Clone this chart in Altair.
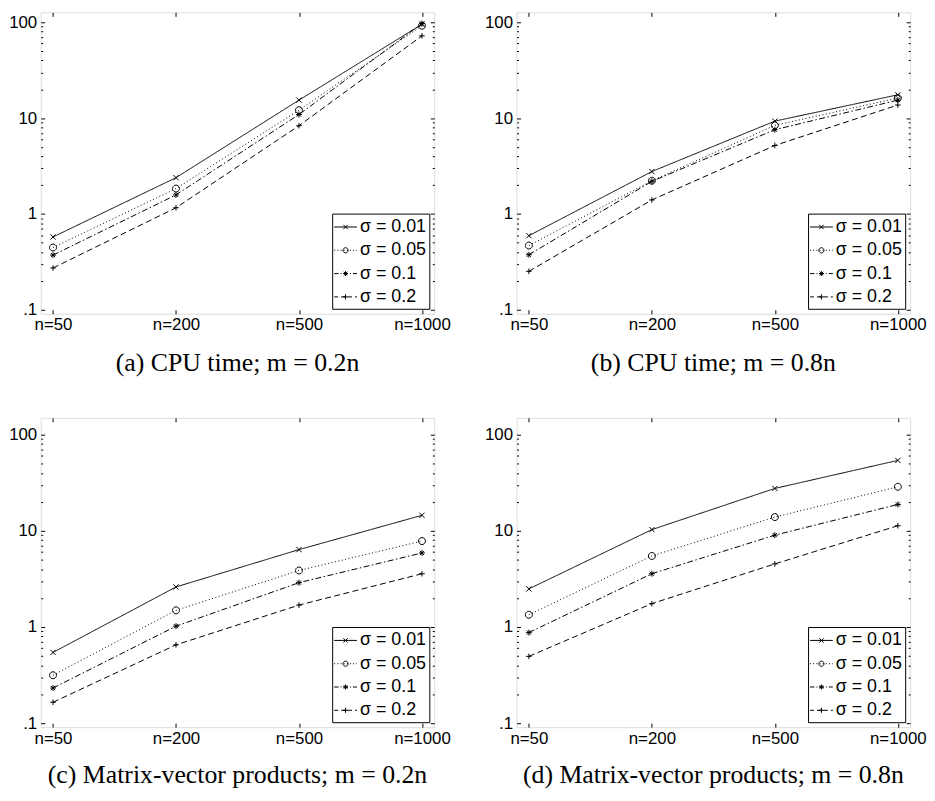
import math
import altair as alt
import pandas as pd

# ---------------- data ----------------
n_labels = ["n=50", "n=200", "n=500", "n=1000"]
sigma_labels = ["σ = 0.01", "σ = 0.05", "σ = 0.1", "σ = 0.2"]

# (a) CPU time; m = 0.2n
a_s001 = [0.575, 2.39, 15.4, 95.3]
a_s005 = [0.446, 1.84, 12.1, 92.0]
a_s01 = [0.372, 1.58, 10.9, 97.0]
a_s02 = [0.273, 1.16, 8.33, 72.2]

# (b) CPU time; m = 0.8n
b_s001 = [0.593, 2.77, 9.3, 17.5]
b_s005 = [0.468, 2.22, 8.4, 16.2]
b_s01 = [0.375, 2.19, 7.57, 15.4]
b_s02 = [0.252, 1.40, 5.18, 13.7]

# (c) Matrix-vector products; m = 0.2n
c_s001 = [0.544, 2.61, 6.38, 14.5]
c_s005 = [0.315, 1.49, 3.87, 7.83]
c_s01 = [0.232, 1.02, 2.89, 5.89]
c_s02 = [0.165, 0.652, 1.69, 3.58]

# (d) Matrix-vector products; m = 0.8n
d_s001 = [2.49, 10.3, 27.6, 54.0]
d_s005 = [1.34, 5.48, 13.9, 28.7]
d_s01 = [0.875, 3.58, 9.02, 18.8]
d_s02 = [0.495, 1.75, 4.53, 11.3]

captions = [
    "(a)  CPU time; m = 0.2n",
    "(b)  CPU time; m = 0.8n",
    "(c)  Matrix-vector products; m = 0.2n",
    "(d)  Matrix-vector products; m = 0.8n",
]

major_ticks = [0.1, 1, 10, 100]
minor_ticks = [0.2, 0.3, 0.4, 0.5, 0.6, 0.7, 0.8, 0.9,
               2, 3, 4, 5, 6, 7, 8, 9,
               20, 30, 40, 50, 60, 70, 80, 90]

# ---------------- styles ----------------
W = 397
SANS = "Liberation Sans"
SERIF = "Liberation Serif"
FS = 17

dash_patterns = [[1, 0], [1, 2.5], [6, 2.5, 1.5, 2.5], [6, 3.5]]


def poly(points, s):
    return "M" + "L".join(f"{x * s:.3f},{y * s:.3f}" for x, y in points)


def marker_path(kind, s):
    if kind == "x":
        return poly([(-1, -1), (1, 1)], s) + poly([(-1, 1), (1, -1)], s)
    if kind == "o":
        pts = [(math.cos(2 * math.pi * k / 20), math.sin(2 * math.pi * k / 20)) for k in range(21)]
        return poly(pts, s) + "Z"
    if kind == "*":
        d = 0.707
        return (poly([(-1, 0), (1, 0)], s) + poly([(0, -1), (0, 1)], s)
                + poly([(-d, -d), (d, d)], s) + poly([(-d, d), (d, -d)], s))
    if kind == "+":
        return poly([(-1, 0), (1, 0)], s) + poly([(0, -1), (0, 1)], s)


kinds = ["x", "o", "*", "+"]
# data markers (size 49 -> 3.5px per unit)
marker_scale = {"x": 0.75, "o": 1.0, "*": 0.85, "+": 0.8}
data_markers = [marker_path(k, marker_scale[k]) for k in kinds]

# legend symbols: line segment with dash pattern + marker (size 400 -> 10px per unit)
UNIT = 10.0
HALF = 11.5
legend_marker_px = {"x": 2.2, "o": 2.6, "*": 2.5, "+": 2.6}
legend_dash_px = [[], [1, 2.2], [4.5, 2, 1, 2], [4, 3]]


def line_path(pattern):
    if not pattern:
        return f"M{-HALF / UNIT:.3f},0H{HALF / UNIT:.3f}"
    parts = []
    x = -HALF
    i = 0
    while x < HALF - 1e-6:
        seg = pattern[i % len(pattern)]
        x2 = min(x + seg, HALF)
        if i % 2 == 0:
            parts.append(f"M{x / UNIT:.3f},0H{x2 / UNIT:.3f}")
        x = x2
        i += 1
    return "".join(parts)


legend_symbols = [line_path(p) + marker_path(k, legend_marker_px[k] / UNIT)
                  for p, k in zip(legend_dash_px, kinds)]


def make_panel(series, caption, height, ymax, title_offset):
    rows = []
    for s, arr in zip(sigma_labels, series):
        for n, v in zip(n_labels, arr):
            rows.append({"n": n, "v": v, "sig": s, "lab": s})
    df = pd.DataFrame(rows)

    ysc = alt.Scale(type="log", domain=[0.0909, ymax], nice=False)
    xsc = alt.Scale(type="point", domain=n_labels, padding=0.1)
    base = alt.Chart(df)

    common = dict(title=None, grid=False, domain=False, tickColor="black", tickWidth=1)
    tick_only = dict(labels=False, minExtent=0, maxExtent=0, **common)

    x_lab = alt.Axis(orient="bottom", labels=True, ticks=False, labelAngle=0,
                     labelFont=SANS, labelFontSize=FS, labelColor="black",
                     labelPadding=3, minExtent=0, **common)
    x_up = alt.Axis(orient="top", offset=-height, tickSize=4, **tick_only)
    x_down = alt.Axis(orient="bottom", offset=-height, tickSize=4, **tick_only)

    y_lab = alt.Axis(orient="left", values=major_ticks, ticks=False,
                     labelExpr="datum.value < 0.5 ? '.1' : toString(datum.value)",
                     labelFont=SANS, labelFontSize=FS, labelColor="black",
                     labelPadding=4, labelOverlap=False, minExtent=0, **common)
    y_lmaj = alt.Axis(orient="right", offset=-W, values=major_ticks, tickSize=4, **tick_only)
    y_rmaj = alt.Axis(orient="left", offset=-W, values=major_ticks, tickSize=4, **tick_only)
    y_lmin = alt.Axis(orient="right", offset=-W, values=minor_ticks, tickSize=2, **tick_only)
    y_rmin = alt.Axis(orient="left", offset=-W, values=minor_ticks, tickSize=2, **tick_only)

    lines = base.mark_line(color="black", strokeWidth=1).encode(
        x=alt.X("n:N", scale=xsc, sort=n_labels, axis=x_lab),
        y=alt.Y("v:Q", scale=ysc, axis=y_lab),
        strokeDash=alt.StrokeDash("sig:N", scale=alt.Scale(domain=sigma_labels, range=dash_patterns),
                                  legend=None),
    )
    points = base.mark_point(filled=False, color="black", strokeWidth=1, size=49, opacity=1).encode(
        x=alt.X("n:N", scale=xsc, sort=n_labels, axis=x_up),
        y=alt.Y("v:Q", scale=ysc, axis=y_lmaj),
        shape=alt.Shape("sig:N", scale=alt.Scale(domain=sigma_labels, range=data_markers), legend=None),
    )
    legend_layer = base.mark_point(filled=False, color="black", strokeWidth=1, size=1, opacity=0).encode(
        x=alt.X("n:N", scale=xsc, sort=n_labels, axis=x_down),
        y=alt.Y("v:Q", scale=ysc, axis=y_rmaj),
        shape=alt.Shape(
            "lab:N",
            scale=alt.Scale(domain=sigma_labels, range=legend_symbols),
            legend=alt.Legend(
                title=None, orient="bottom-right", offset=5,
                symbolSize=400, symbolStrokeWidth=1, symbolStrokeColor="black",
                symbolFillColor="transparent", symbolOpacity=1,
                labelFont=SANS, labelFontSize=18, labelColor="black", labelOffset=4,
                strokeColor="black", fillColor="white", padding=3, rowPadding=3.5,
                labelLimit=200,
            ),
        ),
    )
    minor1 = base.mark_point(opacity=0, size=1).encode(
        x=alt.X("n:N", scale=xsc, sort=n_labels, axis=None),
        y=alt.Y("v:Q", scale=ysc, axis=y_lmin),
    )
    minor2 = base.mark_point(opacity=0, size=1).encode(
        x=alt.X("n:N", scale=xsc, sort=n_labels, axis=None),
        y=alt.Y("v:Q", scale=ysc, axis=y_rmin),
    )

    return alt.layer(lines, points, legend_layer, minor1, minor2).resolve_scale(
        shape="independent"
    ).resolve_axis(
        x="independent", y="independent"
    ).properties(
        width=W, height=height,
        title=alt.TitleParams(caption, orient="bottom", font=SERIF, fontSize=26,
                              fontWeight="normal", color="black", anchor="middle",
                              offset=title_offset),
    )


pa = make_panel([a_s001, a_s005, a_s01, a_s02], captions[0], 304, 126.8, 18)
pb = make_panel([b_s001, b_s005, b_s01, b_s02], captions[1], 304, 126.8, 18)
pc = make_panel([c_s001, c_s005, c_s01, c_s02], captions[2], 312, 149.6, 16)
pd_ = make_panel([d_s001, d_s005, d_s01, d_s02], captions[3], 312, 149.6, 16)

row1 = alt.hconcat(pa, pb, spacing=33)
row2 = alt.hconcat(pc, pd_, spacing=33)

chart = alt.vconcat(row1, row2, spacing=40, padding=0).configure_view(
    stroke="black", strokeWidth=1
).configure(background="white")

chart.save("out.html", embed_options={"renderer": "svg", "actions": False})
